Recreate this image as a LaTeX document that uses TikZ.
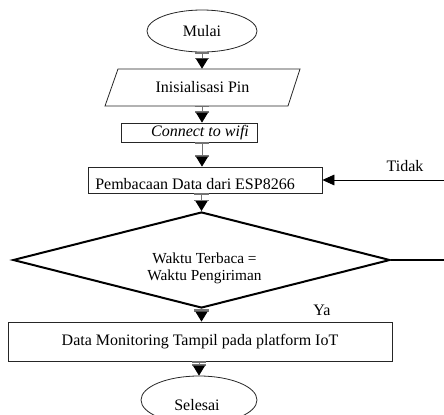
\documentclass[tikz,border=0pt]{standalone}
\usepackage{fontspec}
\setmainfont{Liberation Serif}
\usetikzlibrary{shapes.geometric,arrows.meta,calc}
\newdimen\px \px=0.75pt
\begin{document}
\begin{tikzpicture}[x=0.75pt,y=-0.75pt,
  font=\fontsize{12}{13}\selectfont,
  box/.style={draw=black!85, line width=0.6pt, inner sep=0pt},
  txt/.style={inner sep=0pt},
  arr/.style={draw=black!55, line width=0.7pt,
    {Bar[width=11pt,line width=0.9pt]}-{Bar[width=11pt,line width=0.9pt,sep=0pt]Triangle[width=9pt,length=7.5pt,color=black,fill=black]}},
  back/.style={draw=black, line width=0.6pt, -{Triangle[width=8pt,length=9pt,color=black,fill=black]}},
  loopline/.style={draw=black, line width=1.2pt}]
\clip (0,0) rectangle (444,415);
% nodes
\node[box, ellipse, minimum width=110\px, minimum height=42\px] (mulai) at (202,31) {Mulai};
\draw[box] (118,69) -- (300,69) -- (288,106) -- (105,106) -- cycle;
\node[txt, minimum width=170\px, minimum height=37\px] (init) at (202.5,87.5) {Inisialisasi Pin};
\node[box, minimum width=136\px, minimum height=19\px] (wifi) at (189,132.5) {};
\node[txt] (wifitxt) at (200,133) {\itshape Connect to wifi};
\node[box, minimum width=234\px, minimum height=26\px] (baca) at (205,180) {};
\node[txt] (bacatxt) at (195,184) {Pembacaan Data dari ESP8266};
\node[draw, line width=1.5pt, diamond, minimum width=377\px, minimum height=96\px, inner sep=0pt] (cek) at (201.5,260) {};
\node[txt, align=center, font=\fontsize{11.5}{13}\selectfont] (cektxt) at (204.5,268) {Waktu Terbaca =\\Waktu Pengiriman};
\node[txt] (tidak) at (405,166) {Tidak};
\node[txt] (ya) at (322,310) {Ya};
\node[box, minimum width=384\px, minimum height=39\px] (data) at (200,341.5) {Data Monitoring Tampil pada platform IoT};
\node[box, ellipse, minimum width=116\px, minimum height=48\px] (selesai) at (199,400) {};
\node[txt] (selesaitxt) at (197,405) {Selesai};
\coordinate (rt) at (448,0);
% connectors
\draw[arr] (mulai.south) -- (init.north -| mulai.south);
\draw[arr] (init.south -| mulai.south) -- (wifi.north -| mulai.south);
\draw[arr] (wifi.south -| mulai.south) -- (baca.north -| mulai.south);
\draw[arr] (baca.south -| cek.north) -- (cek.north);
\draw[arr] (cek.south) -- (data.north -| cek.south);
\draw[arr] (data.south -| selesai.north) -- (selesai.north);
\draw[loopline] (cek.east) -- (cek.east -| rt) -- (baca.east -| rt);
\draw[back] (baca.east -| rt) -- (baca.east);
\end{tikzpicture}
\end{document}
